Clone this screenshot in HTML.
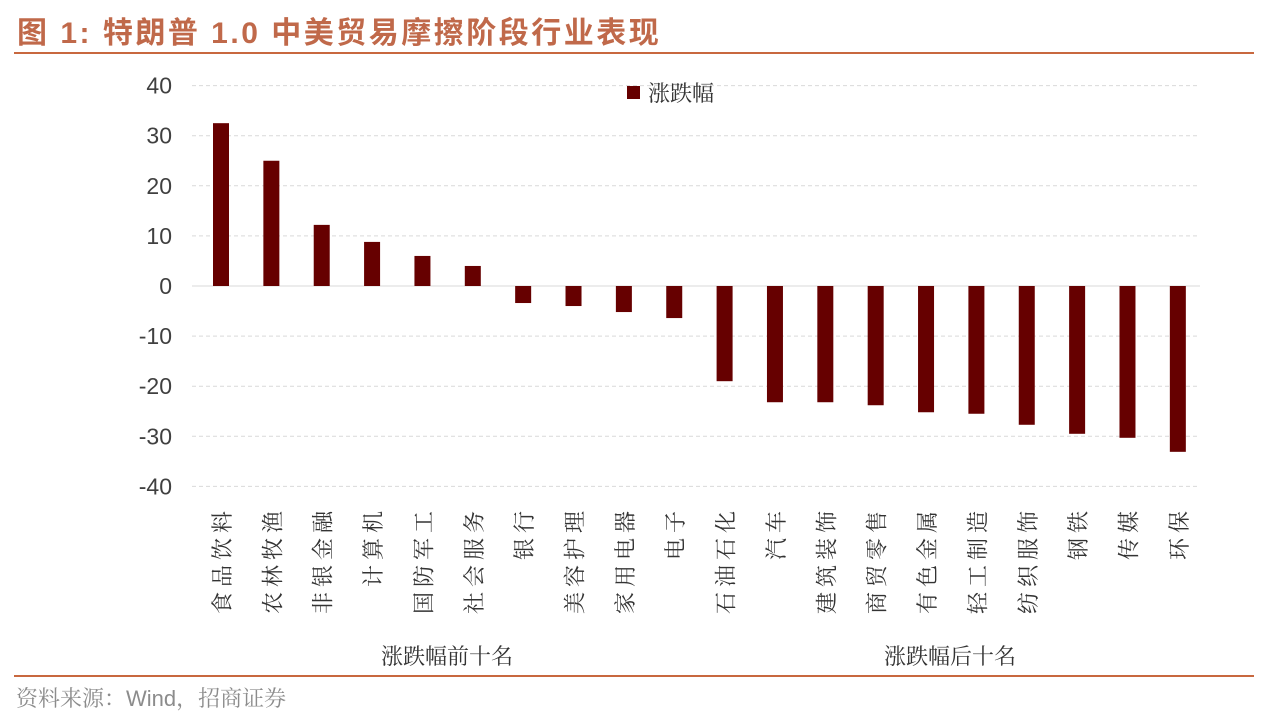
<!DOCTYPE html>
<html><head><meta charset="utf-8">
<style>
body{margin:0;background:#fff;width:1266px;height:721px;overflow:hidden;font-family:"Liberation Sans","Noto Sans CJK SC",sans-serif;}
</style></head>
<body>
<svg id="c" width="1266" height="721" xmlns="http://www.w3.org/2000/svg">
<text x="17" y="43" font-size="30" font-weight="bold" fill="#c0694a" letter-spacing="2.5" font-family="Liberation Sans,Noto Sans CJK SC,sans-serif">图 1:  特朗普 1.0 中美贸易摩擦阶段行业表现</text>
<line x1="14" y1="53" x2="1254" y2="53" stroke="#c8683f" stroke-width="2"/>
<line x1="14" y1="676" x2="1254" y2="676" stroke="#c8683f" stroke-width="2"/>
<text x="16" y="706" font-size="22" fill="#8c8c8c" font-family="Liberation Sans,Noto Serif CJK SC,serif">资料来源：Wind，招商证券</text>
<g id="grid"></g><g id="bars"></g><g id="labels"></g>
<rect x="627" y="86" width="13" height="13" fill="#660000"/>
<text x="648" y="101" font-size="22" fill="#333" font-family="Noto Serif CJK SC,serif">涨跌幅</text>
<text x="447" y="664" font-size="22" fill="#333" text-anchor="middle" font-family="Noto Serif CJK SC,serif">涨跌幅前十名</text>
<text x="950" y="664" font-size="22" fill="#333" text-anchor="middle" font-family="Noto Serif CJK SC,serif">涨跌幅后十名</text>
</svg>
<script>
const categories=["食品饮料","农林牧渔","非银金融","计算机","国防军工","社会服务","银行","美容护理","家用电器","电子","石油石化","汽车","建筑装饰","商贸零售","有色金属","轻工制造","纺织服饰","钢铁","传媒","环保"];
const values=[32.5,25,12.2,8.8,6,4,-3.4,-4,-5.2,-6.4,-19,-23.2,-23.2,-23.8,-25.2,-25.5,-27.7,-29.5,-30.3,-33.1];
const yTicks=[40,30,20,10,0,-10,-20,-30,-40];
const NS="http://www.w3.org/2000/svg";
const y=v=>286-v*5.01;
const x=i=>221+i*50.36;
const grid=document.getElementById('grid'),bars=document.getElementById('bars'),labels=document.getElementById('labels');
yTicks.forEach(t=>{
 const l=document.createElementNS(NS,'line');
 l.setAttribute('x1',192);l.setAttribute('x2',1200);l.setAttribute('y1',y(t));l.setAttribute('y2',y(t));
 l.setAttribute('stroke','#d9d9d9');l.setAttribute('stroke-dasharray',t===0?'':'4,3');
 
 
 grid.appendChild(l);
 const tx=document.createElementNS(NS,'text');
 tx.setAttribute('x',172);tx.setAttribute('y',y(t)+8);tx.setAttribute('text-anchor','end');
 tx.setAttribute('font-size','23');tx.setAttribute('fill','#404040');tx.textContent=t;
 
 
 grid.appendChild(tx);
});
values.forEach((v,i)=>{
 const r=document.createElementNS(NS,'rect');
 r.setAttribute('x',x(i)-8);r.setAttribute('width',16);
 r.setAttribute('y',Math.min(y(v),y(0)));r.setAttribute('height',Math.abs(y(v)-y(0)));
 r.setAttribute('fill','#660000');
 
 
 bars.appendChild(r);
 const t=document.createElementNS(NS,'text');
 t.setAttribute('transform','translate('+(x(i)+9)+',506) rotate(-90)');
 t.setAttribute('x',0);t.setAttribute('y',0);
 t.setAttribute('text-anchor','end');
 t.setAttribute('font-size','22');t.setAttribute('fill','#333');
 t.setAttribute('font-family','Noto Serif CJK SC,serif');
 t.setAttribute('letter-spacing','5');
 t.textContent=categories[i];
 
 
 labels.appendChild(t);
});
</script>
</body></html>
